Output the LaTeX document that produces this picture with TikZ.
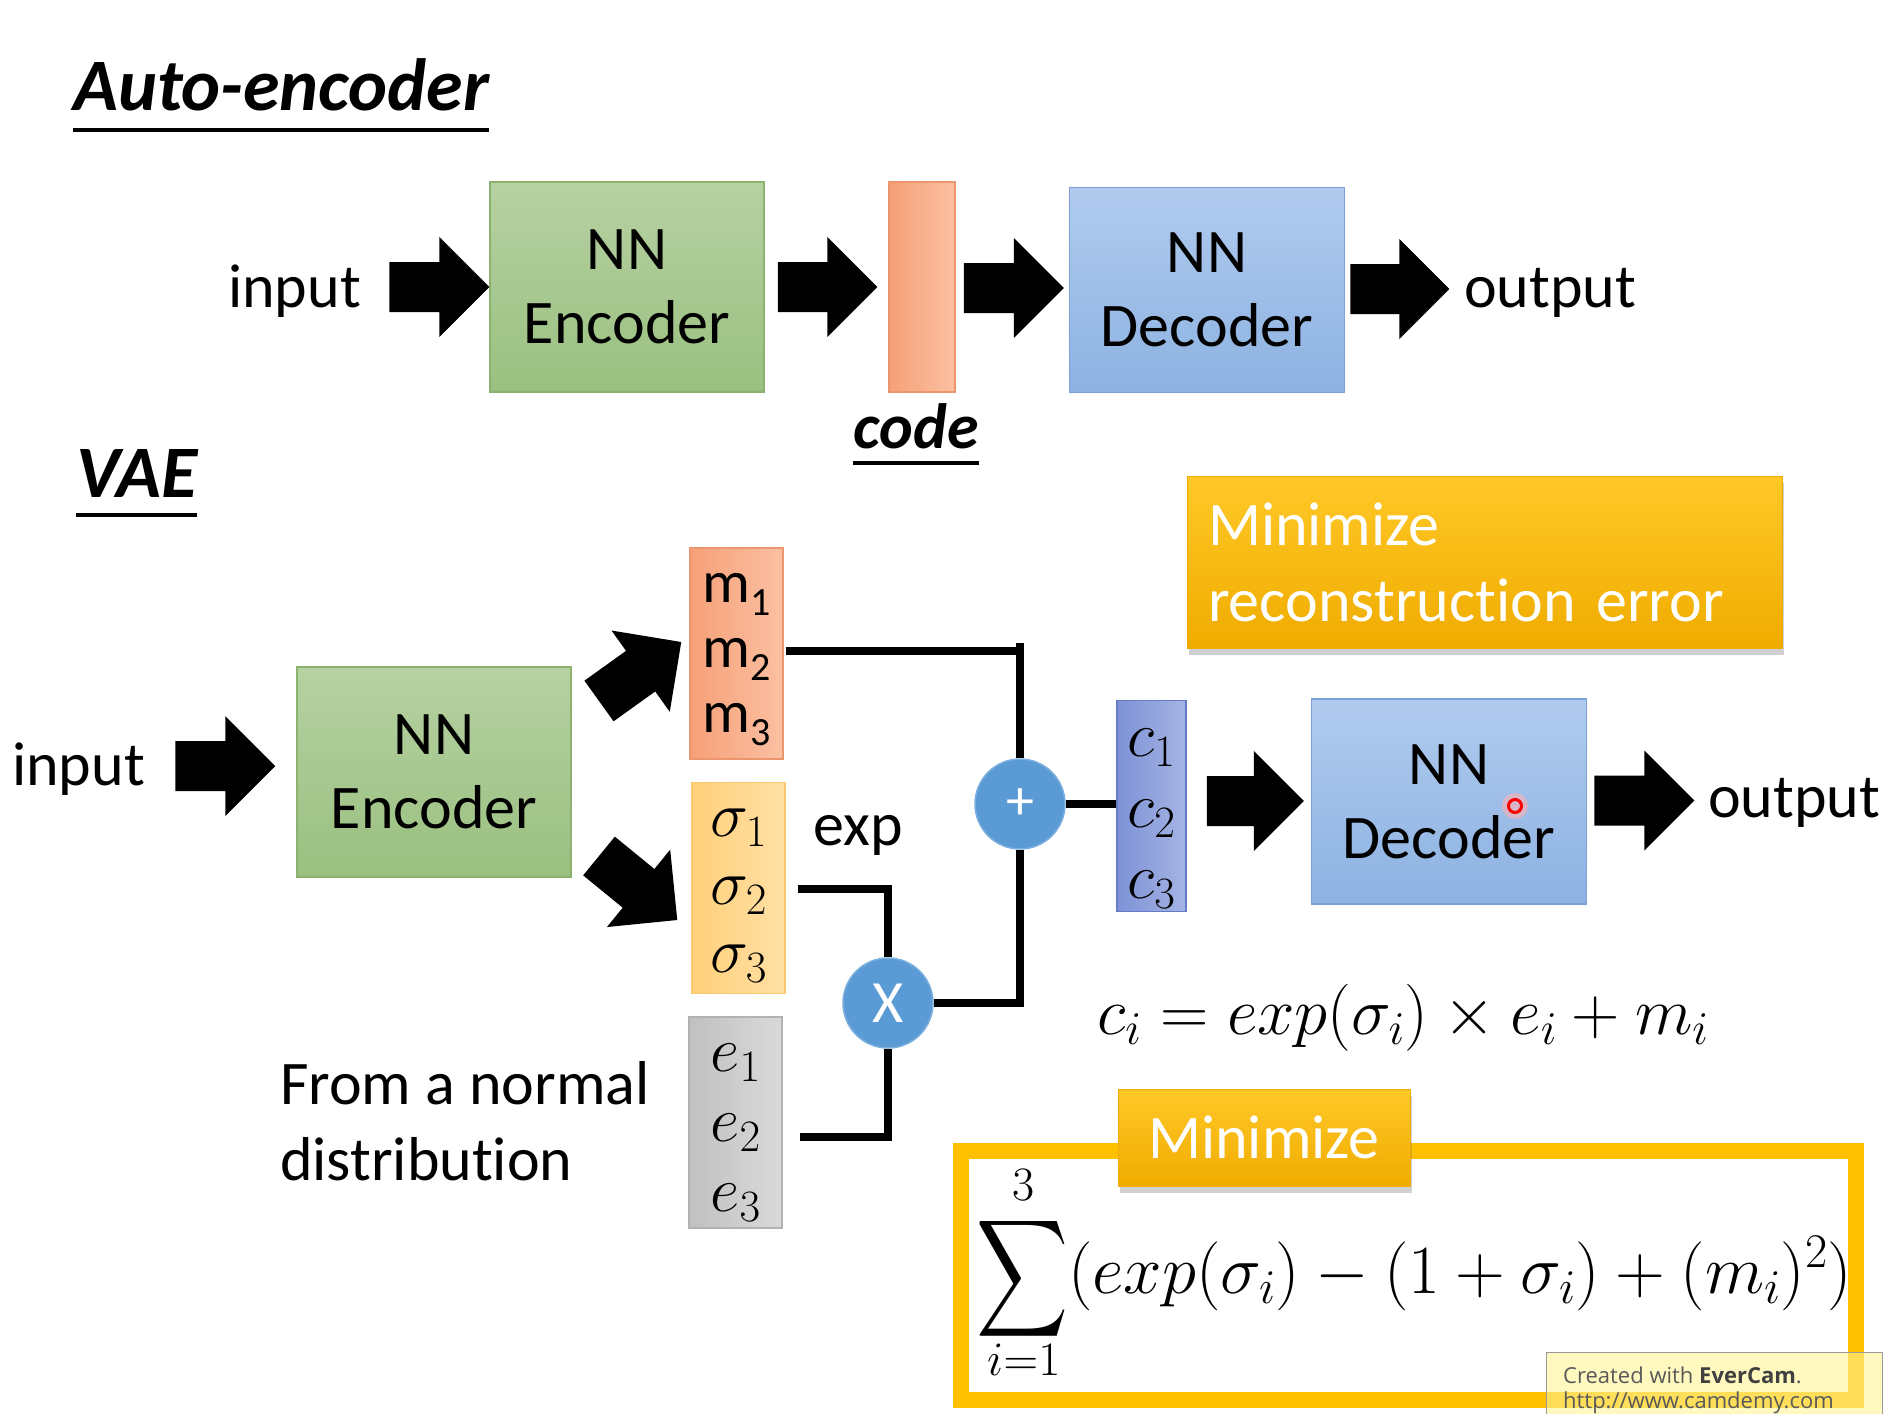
\RequirePackage{fix-cm}
\documentclass[tikz,border=0pt]{standalone}
\usepackage{graphicx}
\usepackage{fontspec}
\setmainfont{Carlito}[Ligatures=NoCommon]
\newfontfamily\wmfont{Open Sans}
\usetikzlibrary{calc,shadows}

\definecolor{encT}{RGB}{182,209,162}
\definecolor{encB}{RGB}{154,192,128}
\definecolor{encD}{RGB}{140,178,112}
\definecolor{salL}{RGB}{246,160,120}
\definecolor{salR}{RGB}{251,192,162}
\definecolor{salD}{RGB}{236,150,110}
\definecolor{sigL}{RGB}{255,208,122}
\definecolor{sigR}{RGB}{255,224,165}
\definecolor{sigD}{RGB}{250,200,110}
\definecolor{eL}{RGB}{192,192,192}
\definecolor{eR}{RGB}{218,218,218}
\definecolor{eD}{RGB}{178,178,178}
\definecolor{cL}{RGB}{126,146,214}
\definecolor{cR}{RGB}{165,180,228}
\definecolor{cD}{RGB}{100,124,200}
\definecolor{decT}{RGB}{176,203,238}
\definecolor{decB}{RGB}{141,178,226}
\definecolor{decD}{RGB}{124,160,214}
\definecolor{opB}{RGB}{91,155,213}
\definecolor{orT}{RGB}{255,200,40}
\definecolor{orB}{RGB}{240,172,0}
\definecolor{orF}{RGB}{255,192,0}
\definecolor{wmY}{RGB}{255,245,150}

\newcommand\fsbody{\fontsize{62}{76}\selectfont}
\newcommand\fstitle{\fontsize{74}{80}\selectfont\bfseries\itshape}
\newcommand\fscode{\fontsize{64}{76}\selectfont\bfseries\itshape}
\newcommand\fseq{\fontsize{67}{76}\selectfont}
\newcommand\fssum{\fontsize{69}{78}\selectfont}
\newcommand\fslim{\fontsize{48}{50}\selectfont}
\newcommand\msub[1]{m\raisebox{-13pt}[0pt][0pt]{\fontsize{40}{40}\selectfont #1}}
\newcommand\blockarrow[2]{%
  \path ($(#2)!50pt!(#1)$) coordinate (bah);
  \fill[black] ($(#1)!25pt!90:(#2)$) -- ($(bah)!25pt!90:(#2)$) -- ($(bah)!50pt!90:(#2)$) -- (#2)
    -- ($(bah)!50pt!-90:(#2)$) -- ($(bah)!25pt!-90:(#2)$) -- ($(#1)!25pt!-90:(#2)$) -- cycle;}

\begin{document}
\begin{tikzpicture}[x=1pt,y=-1pt,
  txt/.style={inner sep=0pt, font=\fsbody},
  ttl/.style={inner sep=0pt, font=\fstitle},
  blk/.style={draw, line width=1.5pt, inner sep=0pt, align=center, font=\fsbody},
  encbox/.style={blk, draw=encD, top color=encT, bottom color=encB, minimum width=274pt, minimum height=210pt},
  decbox/.style={blk, draw=decD, top color=decT, bottom color=decB, minimum width=275pt, minimum height=205pt},
  vecbox/.style={blk, minimum width=93pt, minimum height=211pt},
  vtxt/.style={inner sep=0pt, align=center},
  salbox/.style={vecbox, draw=salD, left color=salL, right color=salR},
  sigbox/.style={vecbox, draw=sigD, left color=sigL, right color=sigR},
  ebox/.style={vecbox, draw=eD, left color=eL, right color=eR},
  cbox/.style={vecbox, draw=cD, left color=cL, right color=cR, minimum width=69pt},
  opnode/.style={circle, fill=opB, draw=opB!80!white, line width=1.5pt, minimum size=90pt, inner sep=0pt, text=white},
  conn/.style={line width=8pt},
  ulin/.style={line width=4pt},
  orbox/.style={inner sep=0pt, top color=orT, bottom color=orB, draw=orB, line width=1pt, text=white, font=\fsbody,
     drop shadow={shadow xshift=2pt, shadow yshift=-7pt, opacity=0.3, fill=black!60}},
]
\useasboundingbox (0,0) rectangle (1900,1413);
\fill[white] (0,0) rectangle (1900,1413);

% ---------- Auto-encoder ----------
\node[ttl, anchor=base west] (t1) at (73,110) {Auto-encoder};
\draw[ulin] ($(t1.base west)+(0,20)$) -- ($(t1.base east)+(0,20)$);

\node[txt, anchor=base west] (in1) at (228,307) {input};
\node[encbox] (enc1) at (627,287) {NN\\[-2pt]Encoder};
\node[blk, draw=salD, left color=salL, right color=salR, minimum width=66pt, minimum height=210pt] (code) at (922,287) {};
\node[decbox] (dec1) at (1207,290) {NN\\[-2pt]Decoder};
\node[txt, anchor=base west] (out1) at (1464,307) {output};
\node[inner sep=0pt, font=\fscode, anchor=base] (codel) at (916,448) {code};
\draw[ulin] ($(codel.base west)+(0,15)$) -- ($(codel.base east)+(0,15)$);

\coordinate (a1s) at ($(enc1.west)+(-100,0)$);
\blockarrow{a1s}{enc1.west}
\coordinate (a2s) at ($(enc1.east)+(13,0)$);
\coordinate (a2e) at ($(code.west)+(-11,0)$);
\blockarrow{a2s}{a2e}
\coordinate (a3s) at ($(code.east)+(8,1)$);
\coordinate (a3e) at ($(dec1.west)+(-5,-2)$);
\blockarrow{a3s}{a3e}
\coordinate (a4s) at ($(dec1.east)+(5,-1)$);
\coordinate (a4e) at ($(dec1.east)+(104,-1)$);
\blockarrow{a4s}{a4e}

% ---------- VAE ----------
\node[ttl, anchor=base west] (t2) at (76,497) {VAE};
\draw[ulin] ($(t2.base west)+(0,18)$) -- ($(t2.base east)+(0,18)$);

\node[txt, anchor=base west] (in2) at (12,785) {input};
\node[encbox] (enc2) at (434,772) {NN\\[-2pt]Encoder};
\coordinate (b1s) at ($(enc2.west)+(-121,-6)$);
\coordinate (b1e) at ($(enc2.west)+(-21,-6)$);
\blockarrow{b1s}{b1e}

\node[salbox] (mbox) at (736.5,653.5) {};
\node[vtxt, font=\fontsize{60}{65}\selectfont] (mtext) at ($(mbox.center)+(0,-1)$) {\msub1\\\msub2\\\msub3};
\node[sigbox] (sbox) at (738.5,888) {};
\node[vtxt, font=\fontsize{64}{68}\selectfont] (stext) at ($(sbox.center)+(0,8)$) {$\sigma_1$\\$\sigma_2$\\$\sigma_3$};
\node[ebox] (ebox) at (735.5,1122.5) {};
\node[vtxt, font=\fontsize{64}{70}\selectfont] (etext) at ($(ebox.center)+(0,10)$) {$e_1$\\$e_2$\\$e_3$};

\coordinate (b2s) at (599,701);
\coordinate (b2e) at ($(mbox.west)+(-8,-11.5)$);
\blockarrow{b2s}{b2e}
\coordinate (b3s) at (599,856);
\coordinate (b3e) at ($(sbox.west)+(-14,32)$);
\blockarrow{b3s}{b3e}

\node[txt, anchor=base west] (exp) at (813,845) {exp};
\node[opnode, font=\fontsize{56}{56}\selectfont] (plus) at (1020,804) {+};
\node[opnode, font=\fontsize{60}{60}\selectfont] (times) at (888,1003) {X};
\node[cbox] (cbox) at (1151.5,806) {};
\node[vtxt, font=\fontsize{64}{71}\selectfont] (ctext) at ($(cbox.center)+(0,13)$) {$c_1$\\$c_2$\\$c_3$};

\draw[conn] ($(mbox.east)+(2,-2.5)$) -| (plus.north);
\draw[conn] (plus.north) -- (plus.north |- 0,643);
\draw[conn] ($(sbox.east)+(12,1)$) -| (times.north);
\draw[conn] ($(ebox.east)+(17,14)$) -| (times.south);
\draw[conn] (times.east) -| (plus.south);
\draw[conn] (plus.east) -- (plus.east -| cbox.west);

\node[decbox] (dec2) at (1449,801.5) {NN\\[-2pt]Decoder};
\coordinate (b4s) at ($(cbox.east)+(20,-5)$);
\coordinate (b4e) at ($(dec2.west)+(-7,-0.5)$);
\blockarrow{b4s}{b4e}
\coordinate (b5s) at ($(dec2.east)+(7,-1)$);
\coordinate (b5e) at ($(dec2.east)+(107,-1)$);
\blockarrow{b5s}{b5e}
\node[txt, anchor=base west] (out2) at (1708,817) {output};

% pointer
\fill[red!30, opacity=0.6] (1515,806) circle (13);
\node[circle, draw=red, line width=3pt, minimum size=13pt, inner sep=0pt] (ptr) at (1515,806) {};

% Minimize reconstruction error
\node[orbox, minimum width=595pt, minimum height=172pt, text width=553pt, inner xsep=21pt, align=left] (minrec) at (1484.5,562) {Minimize\\reconstruction error};

\node[txt, anchor=base west, align=left] (normal) at (280,1180) {From a normal\\distribution};

\node[inner sep=0pt, anchor=base west, font=\fseq] (cieq) at (1097,1034) {$c_i = exp(\sigma_i)\times e_i + m_i$};

% KL term
\node[draw=orF, line width=16pt, minimum width=895pt, minimum height=249pt, inner sep=0pt] (frame) at (1408.5,1275.5) {};
\node[orbox, minimum width=292pt, minimum height=97pt] (min2) at (1264,1137.5) {Minimize};
\node[inner sep=0pt, font=\fssum, anchor=north] (sig) at (1023,1213) {\resizebox*{92pt}{207pt}{$\displaystyle\sum$}};
\node[inner sep=0pt, font=\fslim, anchor=base] (supl) at (1023,1200) {$3$};
\node[inner sep=0pt, font=\fslim, anchor=base] (subl) at (1024,1375) {$i{=}1$};
\node[inner sep=0pt, anchor=base west, font=\fssum] (sumeq) at (1068,1293)
  {$(exp(\sigma_i)-(1+\sigma_i)+(m_i)^2)$};

% watermark
\node[anchor=north west, fill=wmY, fill opacity=0.6, draw=black!40, line width=1pt, minimum width=336pt, minimum height=66pt, inner sep=0pt] (wm) at (1546,1352) {};
\node[anchor=base west, inner sep=0pt, font=\wmfont\fontsize{22}{25}\selectfont, text=black!65, align=left] (wmt) at (1563,1408)
  {Created with \textbf{\color{black!75}EverCam}.\\http://www.camdemy.com};
\end{tikzpicture}
\end{document}
